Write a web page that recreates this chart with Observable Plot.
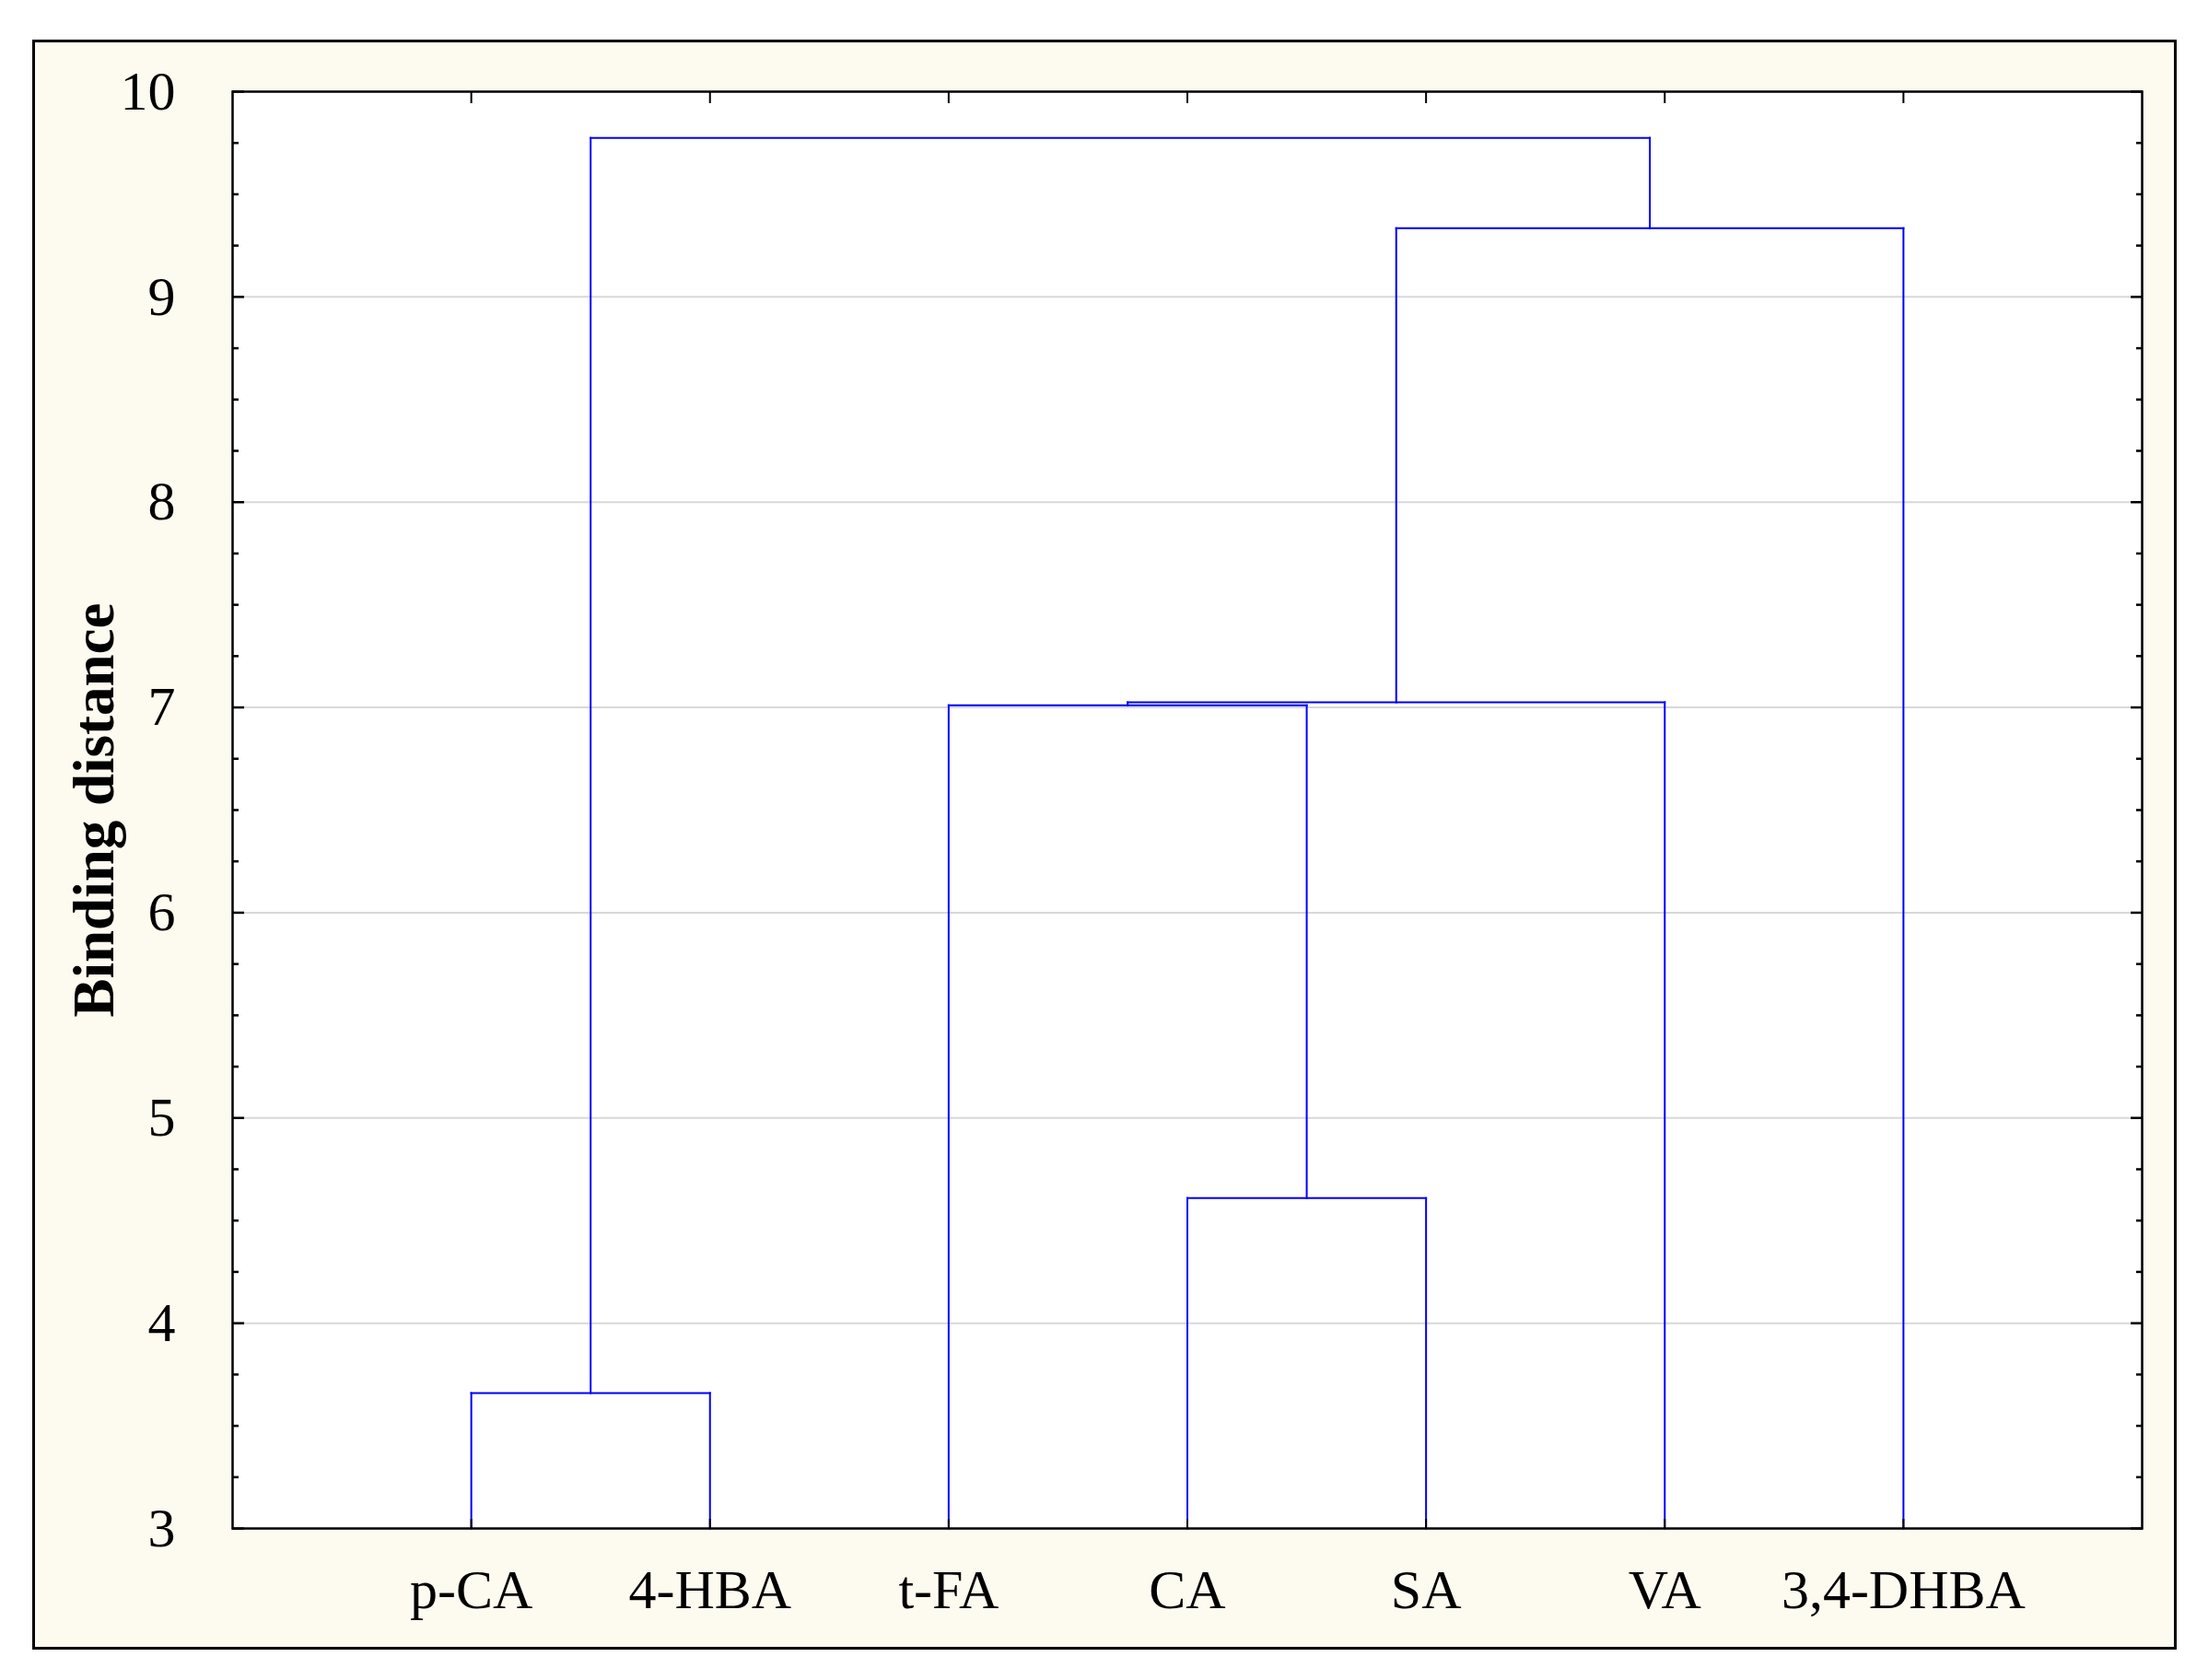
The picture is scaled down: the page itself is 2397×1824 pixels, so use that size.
<!DOCTYPE html>
<html>
<head>
<meta charset="utf-8">
<script src="https://cdn.jsdelivr.net/npm/d3@7"></script>
<script src="https://cdn.jsdelivr.net/npm/@observablehq/plot@0.6"></script>
<style>
  html, body { margin: 0; padding: 0; background: #ffffff; }
  #wrap { position: relative; width: 2397px; height: 1824px; }
  #panel { position: absolute; left: 35px; top: 43px; width: 2328px; height: 1748px;
           box-sizing: border-box; border: 3.5px solid #000; background: #fdfaf0; }
  #chart { position: absolute; left: 0; top: 0; }
</style>
</head>
<body>
<div id="wrap"><div id="panel"></div><div id="chart"></div></div>
<script>
// Leaves (x-axis categories, in dendrogram order)
const leaves = ["p-CA", "4-HBA", "t-FA", "CA", "SA", "VA", "3,4-DHBA"];
// Merge steps: left child, right child, linkage (binding) distance
const mergeLeft   = ["p-CA", "CA", "t-FA", "M3", "M4", "M1"];
const mergeRight  = ["4-HBA", "SA", "M2", "VA", "3,4-DHBA", "M5"];
const mergeHeight = [3.66, 4.61, 7.01, 7.025, 9.335, 9.775];
const leafHeight = 3;
// Axis tick values
const yTickValues = [3, 4, 5, 6, 7, 8, 9, 10];
const yGridValues = [4, 5, 6, 7, 8, 9];
const yMinorValues = d3.range(3, 10.001, 0.25).filter(v => Math.abs(v - Math.round(v)) > 1e-9);
const xTickValues = [1, 2, 3, 4, 5, 6, 7];
const yTitle = "Binding distance";

// Build dendrogram segments from the merge table
const pos = {}, hgt = {};
leaves.forEach((d, i) => { pos[d] = i + 1; hgt[d] = leafHeight; });
const segments = [];
mergeLeft.forEach((l, i) => {
  const r = mergeRight[i], h = mergeHeight[i], id = "M" + (i + 1);
  segments.push({x1: pos[l], y1: hgt[l], x2: pos[l], y2: h});
  segments.push({x1: pos[r], y1: hgt[r], x2: pos[r], y2: h});
  segments.push({x1: pos[l], y1: h, x2: pos[r], y2: h});
  pos[id] = (pos[l] + pos[r]) / 2;
  hgt[id] = h;
});

const chart = Plot.plot({
  width: 2397,
  height: 1824,
  marginLeft: 252,
  marginRight: 72,
  marginTop: 99,
  marginBottom: 165,
  x: {domain: [0, 8]},
  y: {domain: [3, 10]},
  style: {fontFamily: "'Liberation Serif', serif", fontSize: "60px", background: "transparent", color: "#000"},
  marks: [
    Plot.frame({fill: "#ffffff"}),
    Plot.gridY(yGridValues, {stroke: "#d8d8d8", strokeOpacity: 1, strokeWidth: 2}),
    Plot.link(segments, {x1: "x1", y1: "y1", x2: "x2", y2: "y2", stroke: "#0000ff", strokeWidth: 2, strokeLinecap: "square"}),
    Plot.frame({stroke: "#000", strokeWidth: 2.5}),
    // tick labels
    Plot.axisY(yTickValues, {anchor: "left", tickSize: 0, tickPadding: 62, label: null, tickFormat: d => String(d)}),
    Plot.axisX(xTickValues, {anchor: "bottom", tickSize: 0, tickPadding: 44, label: null, tickFormat: d => leaves[d - 1]}),
    // inward tick marks
    Plot.axisY(yTickValues, {anchor: "left", tickSize: -13, fill: "none", label: null, strokeWidth: 2.5}),
    Plot.axisY(yMinorValues, {anchor: "left", tickSize: -7, fill: "none", label: null, strokeWidth: 2.5}),
    Plot.axisY(yTickValues, {anchor: "right", tickSize: -13, fill: "none", label: null, strokeWidth: 2.5}),
    Plot.axisY(yMinorValues, {anchor: "right", tickSize: -7, fill: "none", label: null, strokeWidth: 2.5}),
    Plot.axisX(xTickValues, {anchor: "top", tickSize: -12, fill: "none", label: null, strokeWidth: 2}),
    Plot.axisX(xTickValues, {anchor: "bottom", tickSize: -10, fill: "none", label: null, strokeWidth: 2}),
    // y-axis title
    Plot.text([yTitle], {frameAnchor: "left", textAnchor: "middle", lineAnchor: "middle", dx: -150, rotate: -90, fontWeight: "bold", fontSize: 63, text: d => d})
  ]
});
document.getElementById("chart").appendChild(chart);
</script>
</body>
</html>
